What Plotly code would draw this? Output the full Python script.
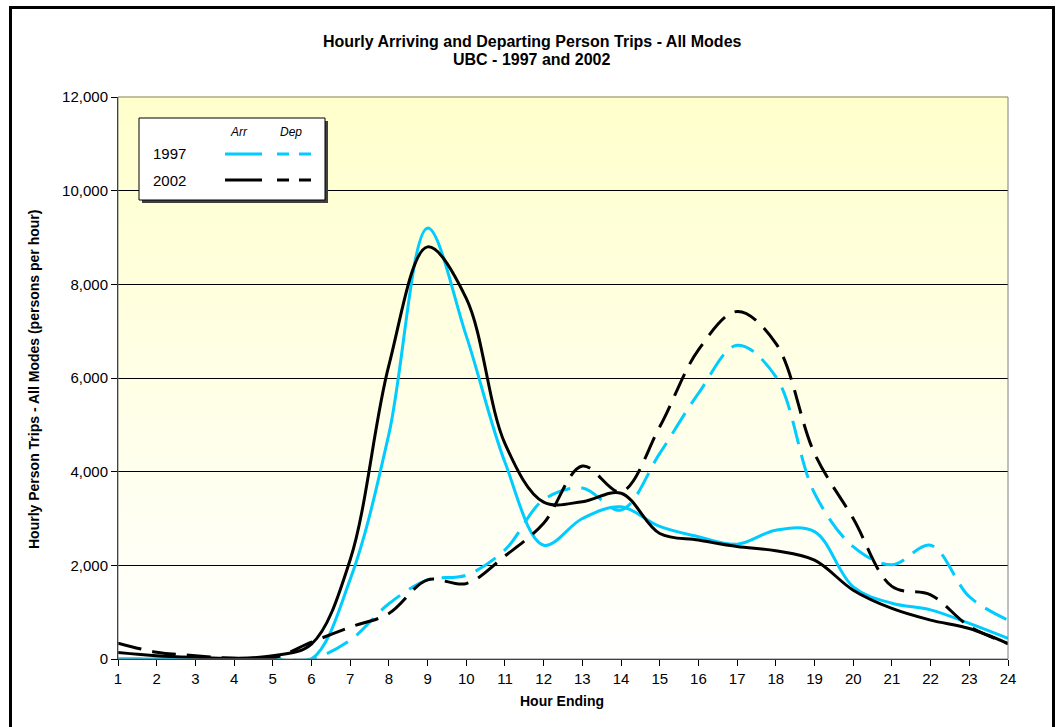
import plotly.graph_objects as go

hours = list(range(1, 25))
arr_1997 = [0, 0, 0, 0, 0, 0, 1700, 4800, 9200, 6900, 4200, 2430, 3000, 3250,
            2830, 2610, 2450, 2750, 2720, 1540, 1190, 1050, 760, 440]
dep_1997 = [0, 0, 0, 0, 0, 0, 400, 1180, 1690, 1790, 2330, 3400, 3650, 3180,
            4390, 5670, 6700, 6030, 3540, 2400, 2010, 2430, 1330, 830]
arr_2002 = [140, 70, 35, 15, 70, 320, 2120, 6270, 8800, 7700, 4600, 3350, 3360, 3540,
            2680, 2540, 2400, 2310, 2110, 1470, 1080, 830, 650, 330]
dep_2002 = [340, 145, 70, 15, 20, 360, 680, 970, 1690, 1610, 2200, 2900, 4120, 3570,
            4960, 6600, 7420, 6740, 4390, 3000, 1550, 1370, 700, 330]

title_lines = ["Hourly Arriving and Departing Person Trips - All Modes", "UBC - 1997 and 2002"]
y_title = "Hourly Person Trips - All Modes (persons per hour)"
x_title = "Hour Ending"
legend_years = ["1997", "2002"]
legend_cols = ["Arr", "Dep"]

CYAN = "#00CCFF"
BLACK = "#000000"
FONT = "Arial, Liberation Sans, sans-serif"
DASH = "24px,11px"

W, H = 1060, 727
# plot area in page pixels
L, R, T, B = 118, 1008, 97, 659


def xp(px):
    return (px - L) / (R - L)


def yp(py):
    return (B - py) / (B - T)


fig = go.Figure()
series = [
    (arr_1997, CYAN, "solid", "1997 Arr"),
    (dep_1997, CYAN, DASH, "1997 Dep"),
    (arr_2002, BLACK, "solid", "2002 Arr"),
    (dep_2002, BLACK, DASH, "2002 Dep"),
]
for vals, col, dash, name in series:
    fig.add_trace(go.Scatter(
        x=hours, y=vals, mode="lines", name=name,
        line=dict(color=col, width=3, dash=dash, shape="spline", smoothing=1.0),
        showlegend=False, hoverinfo="x+y+name"))

shapes = []
# gradient background (white bottom -> light yellow top)
n = 80
for i in range(n):
    g = int(round(255 - 51 * ((i + 0.5) / n)))
    shapes.append(dict(type="rect", xref="x domain", yref="y domain",
                       x0=0, x1=1, y0=i / n, y1=(i + 1) / n + 0.002,
                       fillcolor=f"rgb(255,255,{g})", line=dict(width=0), layer="below"))
# plot area border
shapes.append(dict(type="rect", xref="x domain", yref="y domain", x0=0, x1=1, y0=0, y1=1,
                   line=dict(color="#808080", width=1), layer="above"))
# outer chart border
shapes.append(dict(type="rect", xref="paper", yref="paper",
                   x0=xp(10.5), x1=xp(1053.5), y0=yp(760), y1=yp(7.5),
                   line=dict(color="black", width=3), fillcolor="rgba(0,0,0,0)", layer="above"))
# legend shadow + box
shapes.append(dict(type="rect", xref="paper", yref="paper",
                   x0=xp(142), x1=xp(328), y0=yp(203), y1=yp(121),
                   fillcolor="#404040", line=dict(width=0), layer="above"))
shapes.append(dict(type="rect", xref="paper", yref="paper",
                   x0=xp(139), x1=xp(325), y0=yp(200), y1=yp(118),
                   fillcolor="white", line=dict(color="black", width=1), layer="above"))
# legend sample lines
for yy, col in [(154, CYAN), (180, BLACK)]:
    shapes.append(dict(type="line", xref="paper", yref="paper",
                       x0=xp(225), x1=xp(262), y0=yp(yy), y1=yp(yy),
                       line=dict(color=col, width=3, dash="solid"), layer="above"))
    shapes.append(dict(type="line", xref="paper", yref="paper",
                       x0=xp(277), x1=xp(311), y0=yp(yy), y1=yp(yy),
                       line=dict(color=col, width=3, dash="12px,10px"), layer="above"))


def ann(text, px, py, size, angle=0):
    return dict(text=text, xref="paper", yref="paper", x=xp(px), y=yp(py), showarrow=False,
                textangle=angle, font=dict(family=FONT, size=size, color="black"),
                xanchor="center", yanchor="middle")


annotations = [
    ann("<b>" + title_lines[0] + "</b>", 532, 42, 16),
    ann("<b>" + title_lines[1] + "</b>", 532, 59, 16),
    ann("<b>" + y_title + "</b>", 34, 380, 14, -90),
    ann("<b>" + x_title + "</b>", 562, 701, 14),
    ann("<i>" + legend_cols[0] + "</i>", 239, 132, 12),
    ann("<i>" + legend_cols[1] + "</i>", 291, 132, 12),
    ann(legend_years[0], 169, 154, 15),
    ann(legend_years[1], 169, 180, 15),
]

fig.update_layout(
    width=W, height=H,
    margin=dict(l=L, r=W - R, t=T, b=H - B, pad=0),
    paper_bgcolor="white", plot_bgcolor="rgba(0,0,0,0)",
    font=dict(family=FONT, size=15, color="black"),
    shapes=shapes, annotations=annotations, showlegend=False,
)
fig.update_xaxes(range=[1, 24], tickvals=hours, ticktext=[str(h) for h in hours],
                 showgrid=False, zeroline=False, showline=True, linecolor="black", linewidth=1,
                 ticks="outside", ticklen=6, tickcolor="black",
                 tickfont=dict(family=FONT, size=15, color="black"))
fig.update_yaxes(range=[0, 12000], dtick=2000, tickformat=",d",
                 showgrid=True, gridcolor="black", gridwidth=1, zeroline=False,
                 showline=True, linecolor="black", linewidth=1,
                 ticks="outside", ticklen=6, tickcolor="black",
                 tickfont=dict(family=FONT, size=15, color="black"))

fig.write_html("out.html", config={"displayModeBar": False},
               post_script="document.body.style.margin='0px';document.body.style.overflow='hidden';")
